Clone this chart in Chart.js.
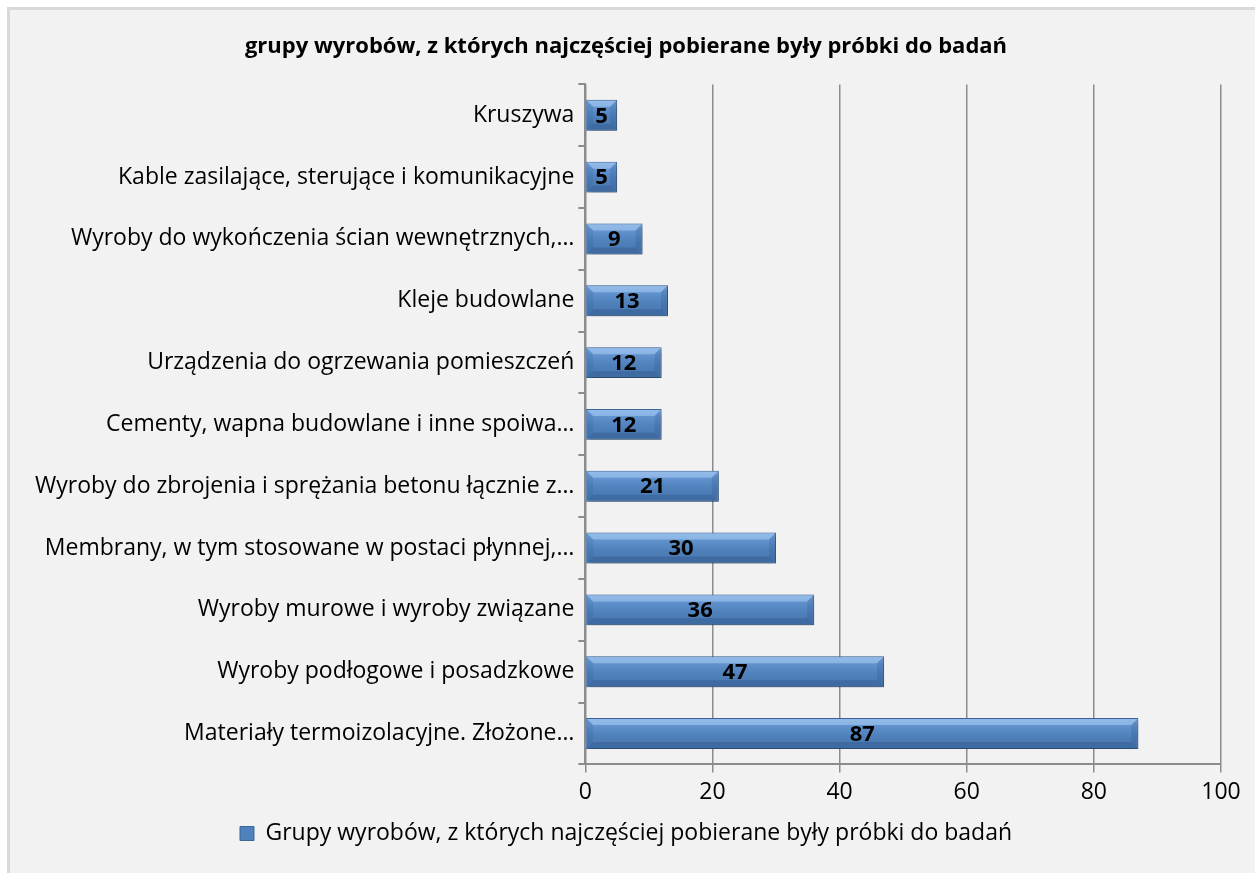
<!DOCTYPE html>
<html>
<head>
<meta charset="utf-8">
<script src="https://cdn.jsdelivr.net/npm/chart.js@4/dist/chart.umd.min.js"></script>
<style>
  body { margin:0; background:#fff; }
  #box { position:absolute; left:7px; top:7px; width:1248px; height:866px; background:#f2f2f2;
         border-top:3px solid #d9d9d9; border-left:3px solid #d9d9d9; }
</style>
</head>
<body>
<div id="box"><canvas id="canvas" width="1245" height="863"></canvas></div>
<script>
// category labels, top to bottom
var categories = [
  'Kruszywa',
  'Kable zasilające, sterujące i komunikacyjne',
  'Wyroby do wykończenia ścian wewnętrznych,…',
  'Kleje budowlane',
  'Urządzenia do ogrzewania pomieszczeń',
  'Cementy, wapna budowlane i inne spoiwa…',
  'Wyroby do zbrojenia i sprężania betonu łącznie z…',
  'Membrany, w tym stosowane w postaci płynnej,…',
  'Wyroby murowe i wyroby związane',
  'Wyroby podłogowe i posadzkowe',
  'Materiały termoizolacyjne. Złożone…'
];
var counts = [5, 5, 9, 13, 12, 12, 21, 30, 36, 47, 87];
var xTicks = [0, 20, 40, 60, 80, 100];

var font = '"Open Sans", Lato, sans-serif';

// draws the bold value in the middle of each bar
var valueLabels = {
  id: 'valueLabels',
  afterDatasetsDraw: function(chart){
    var c = chart.ctx;
    var meta = chart.getDatasetMeta(0);
    c.save();
    c.font = 'bold 22px ' + font;
    c.fillStyle = '#000';
    c.textAlign = 'center';
    c.textBaseline = 'middle';
    meta.data.forEach(function(bar, i){
      var mid = (bar.x + bar.base) / 2;
      c.fillText(counts[i], mid, bar.y + 1);
    });
    c.restore();
  }
};

function poly(c, pts, fill){
  c.beginPath();
  c.moveTo(pts[0], pts[1]);
  for (var k = 2; k < pts.length; k += 2) c.lineTo(pts[k], pts[k + 1]);
  c.closePath();
  c.fillStyle = fill;
  c.fill();
}

// shadow under the bars, then a bevelled look on top of each
var barLook = {
  id: 'barLook',
  beforeDatasetsDraw: function(chart){
    chart.ctx.save();
    chart.ctx.shadowColor = 'rgba(0,0,0,0.35)';
    chart.ctx.shadowBlur = 6;
    chart.ctx.shadowOffsetX = 2;
    chart.ctx.shadowOffsetY = 3;
  },
  afterDatasetsDraw: function(chart){
    var c = chart.ctx;
    c.restore();
    c.save();
    chart.getDatasetMeta(0).data.forEach(function(bar){
      var t = bar.y - bar.height / 2 + 1;
      var b = bar.y + bar.height / 2 - 1;
      var l = Math.min(bar.base, bar.x) + 1;
      var r = Math.max(bar.base, bar.x) - 1;
      var bv = 6;
      var g = c.createLinearGradient(0, t, 0, b);
      g.addColorStop(0, 'rgba(160,200,245,0.5)');
      g.addColorStop(0.45, 'rgba(120,170,230,0.15)');
      g.addColorStop(1, 'rgba(0,0,0,0.04)');
      c.fillStyle = g;
      c.fillRect(l, t, r - l, b - t);
      poly(c, [l, t, r, t, r - bv, t + bv, l + bv, t + bv], 'rgba(170,205,245,0.55)');
      poly(c, [l, b, r, b, r - bv, b - bv, l + bv, b - bv], 'rgba(20,50,100,0.22)');
      poly(c, [l, t, l + bv, t + bv, l + bv, b - bv, l, b], 'rgba(20,50,100,0.10)');
      poly(c, [r, t, r - bv, t + bv, r - bv, b - bv, r, b], 'rgba(20,50,100,0.14)');
    });
    c.restore();
  }
};

new Chart(document.getElementById('canvas'), {
  type: 'bar',
  data: {
    labels: categories,
    datasets: [{
      label: 'Grupy wyrobów, z których najczęściej pobierane były próbki do badań',
      data: counts,
      backgroundColor: '#4f81bd',
      borderColor: '#3b679b',
      borderWidth: 1,
      barPercentage: 0.5,
      categoryPercentage: 1
    }]
  },
  plugins: [barLook, valueLabels],
  options: {
    indexAxis: 'y',
    responsive: false,
    animation: false,
    layout: { padding: { left: 21, right: 34, top: 8, bottom: 18 } },
    plugins: {
      title: {
        display: true,
        text: 'grupy wyrobów, z których najczęściej pobierane były próbki do badań',
        font: { family: font, size: 22, weight: 'bold' },
        color: '#000',
        padding: { top: 16, bottom: 24 }
      },
      legend: {
        position: 'bottom',
        labels: {
          font: { family: font, size: 23 },
          color: '#000',
          boxWidth: 14,
          boxHeight: 14,
          padding: 10
        }
      },
      tooltip: { enabled: false }
    },
    scales: {
      x: {
        min: 0,
        max: 100,
        afterBuildTicks: function(axis){ axis.ticks = xTicks.map(function(v){ return { value: v }; }); },
        grid: { color: '#8c8c8c', lineWidth: 1.5, tickLength: 8, tickColor: '#8c8c8c' },
        border: { color: '#8c8c8c', width: 2 },
        ticks: { font: { family: font, size: 23 }, color: '#000', padding: 6 }
      },
      y: {
        grid: { offset: true, drawOnChartArea: false, tickLength: 7, color: '#8c8c8c', lineWidth: 2 },
        border: { color: '#8c8c8c', width: 2 },
        ticks: { font: { family: font, size: 23 }, color: '#000', padding: 4 }
      }
    }
  }
});
</script>
</body>
</html>
